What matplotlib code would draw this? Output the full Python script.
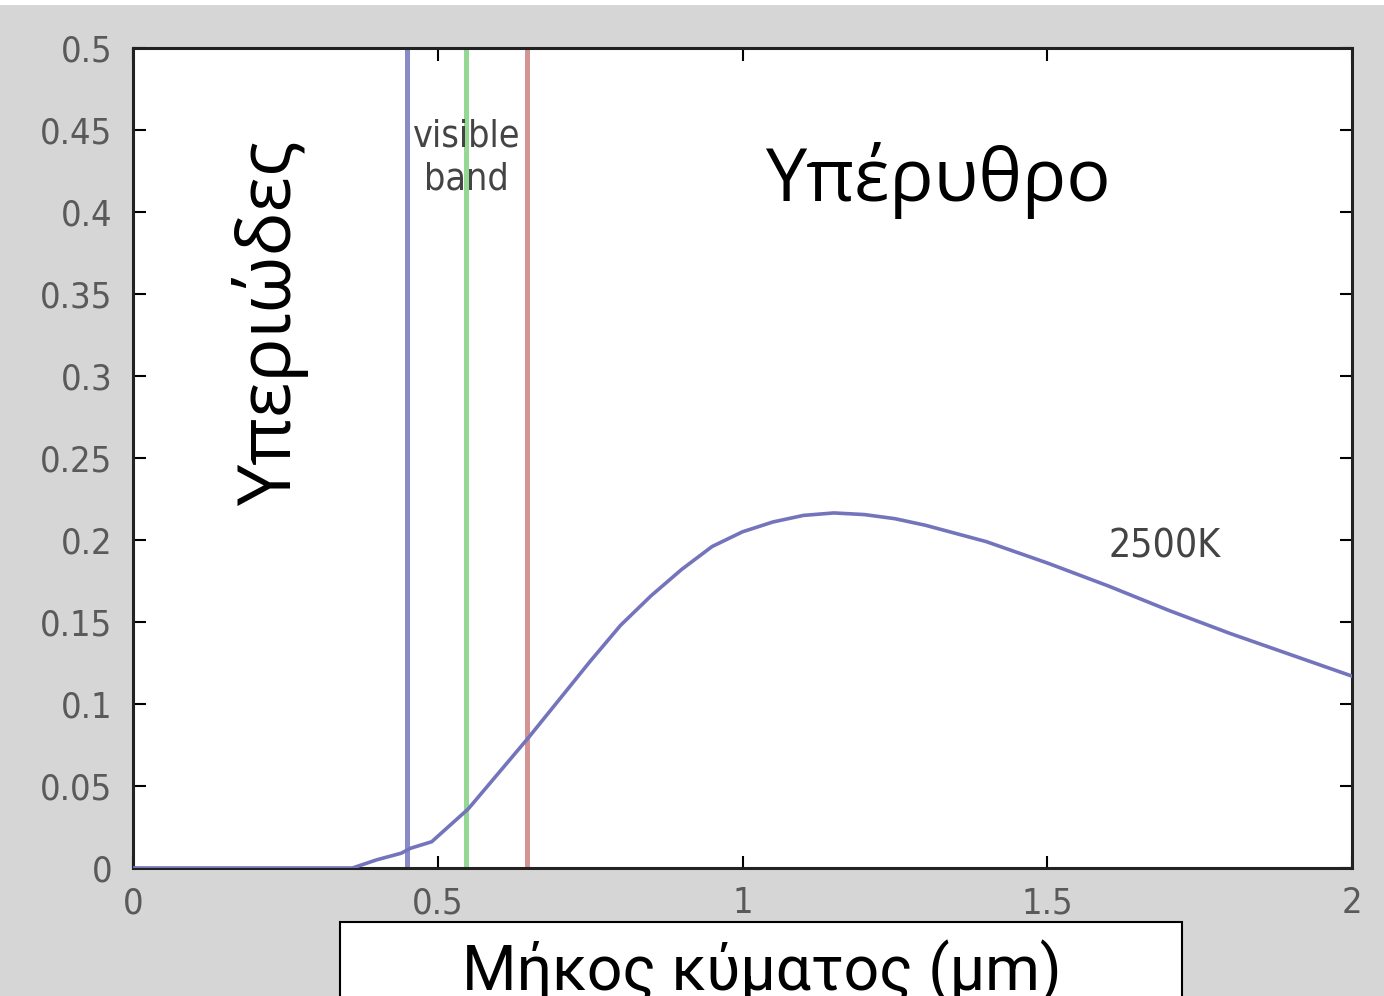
import numpy as np
import matplotlib
matplotlib.use("Agg")
from matplotlib import pyplot as plt
from matplotlib.patches import Rectangle

# curve (2500K)
wavelength = [0.0, 0.36, 0.40, 0.44, 0.455, 0.49, 0.55, 0.60, 0.65, 0.70, 0.75,
              0.80, 0.85, 0.90, 0.95, 1.00, 1.05, 1.10, 1.15, 1.20, 1.25,
              1.30, 1.40, 1.50, 1.60, 1.70, 1.80, 1.90, 2.00]
radiance = [0.0, 0.0, 0.005, 0.009, 0.012, 0.016, 0.036, 0.058, 0.080, 0.103, 0.126,
            0.148, 0.166, 0.182, 0.196, 0.205, 0.211, 0.215, 0.2165, 0.2155, 0.213,
            0.209, 0.199, 0.186, 0.172, 0.157, 0.143, 0.130, 0.117]

band_x = [0.45, 0.547, 0.646]
band_colors = ['#8a8ac8', '#94d894', '#d49494']

xticks = [0, 0.5, 1, 1.5, 2]
xtick_labels = ['0', '0.5', '1', '1.5', '2']
yticks = [0, 0.05, 0.1, 0.15, 0.2, 0.25, 0.3, 0.35, 0.4, 0.45, 0.5]
ytick_labels = ['0', '0.05', '0.1', '0.15', '0.2', '0.25', '0.3', '0.35', '0.4', '0.45', '0.5']

W, H = 1384, 996
fig = plt.figure(figsize=(W / 100, H / 100), dpi=100, facecolor='#d6d6d6')
ax = fig.add_axes([133 / W, 1 - 868 / H, (1352 - 133) / W, (868 - 48) / H])
ax.set_facecolor('white')

for bx, bc in zip(band_x, band_colors):
    ax.axvline(bx, color=bc, lw=3.6, zorder=2)

ax.plot(wavelength, radiance, color='#7474bc', lw=2.6, zorder=3)

ax.set_xlim(0, 2)
ax.set_ylim(0, 0.5)
ax.set_xticks(xticks)
ax.set_xticklabels(xtick_labels)
ax.set_yticks(yticks)
ax.set_yticklabels(ytick_labels)
ax.tick_params(direction='in', length=9, width=1.5, top=True, right=True,
               labelsize=26, labelcolor='#5a5a5a')
ax.tick_params(axis='x', pad=13)
ax.tick_params(axis='y', pad=15)
for lab in ax.get_xticklabels() + ax.get_yticklabels():
    lab.set_fontstretch('condensed')
for sp in ax.spines.values():
    sp.set_linewidth(2.2)
    sp.set_color('#222222')

ax.text(0.547, 0.433, 'visible\nband', ha='center', va='center', fontsize=27,
        color='#444444', linespacing=1.25, fontstretch='condensed', zorder=4)
ax.text(1.693, 0.196, '2500K', ha='center', va='center', fontsize=28,
        color='#444444', fontstretch='condensed', zorder=4)

ax.text(0.225, 0.332, 'Υπεριώδες', rotation=90, ha='center', va='center',
        fontsize=53, family='Open Sans', color='black', zorder=5)
ax.text(1.32, 0.419, 'Υπέρυθρο', ha='center', va='center',
        fontsize=53, family='Open Sans', color='black', zorder=5)

# x label in a white box, cut off at the bottom edge
fig.patches.append(Rectangle((340 / W, -0.05), (1182 - 340) / W, 0.05 + (996 - 922) / H,
                             transform=fig.transFigure, facecolor='white',
                             edgecolor='black', lw=1.5))
fig.text(762 / W, 6 / H, 'Μήκος κύματος (μm)', ha='center', va='baseline',
         fontsize=45, family='Roboto', color='black')

fig.patches.append(Rectangle((0, 1 - 5 / H), 1, 5 / H, transform=fig.transFigure,
                             facecolor='white', edgecolor='none'))

fig.savefig('out.png', dpi=100, facecolor=fig.get_facecolor())
